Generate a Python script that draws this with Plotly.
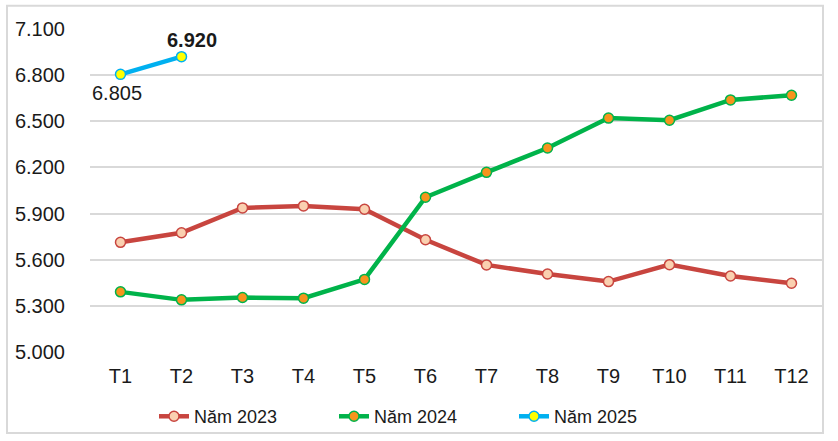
import plotly.graph_objects as go

months = ["T1", "T2", "T3", "T4", "T5", "T6", "T7", "T8", "T9", "T10", "T11", "T12"]
y2023 = [5713, 5775, 5937, 5950, 5928, 5730, 5566, 5507, 5458, 5568, 5494, 5447]
y2024 = [5391, 5339, 5354, 5350, 5472, 6006, 6168, 6326, 6521, 6507, 6639, 6669]
y2025 = [6805, 6920]
months2025 = months[:2]
y_ticks = [5000, 5300, 5600, 5900, 6200, 6500, 6800, 7100]

FONT = "Liberation Sans, Arial, sans-serif"
TXT = "#1a1a1a"

fig = go.Figure()
fig.add_trace(go.Scatter(
    x=months, y=y2023, name="Năm 2023", mode="lines+markers",
    line=dict(color="#C8453F", width=4.5),
    marker=dict(size=10, color="#FAD0B0", line=dict(color="#C8453F", width=1.5)),
))
fig.add_trace(go.Scatter(
    x=months, y=y2024, name="Năm 2024", mode="lines+markers",
    line=dict(color="#00B34A", width=4.5),
    marker=dict(size=10, color="#F7941D", line=dict(color="#00B34A", width=1.5)),
))
fig.add_trace(go.Scatter(
    x=months2025, y=y2025, name="Năm 2025", mode="lines+markers",
    line=dict(color="#00B0F0", width=4.5),
    marker=dict(size=10, color="#FFFF00", line=dict(color="#00B0F0", width=1.5)),
))

def fmt(v):
    return f"{v:,}".replace(",", ".")

fig.add_annotation(x=months2025[0], y=y2025[0], text=fmt(y2025[0]), showarrow=False,
                   xshift=-4, yshift=-19, font=dict(family=FONT, size=20, color=TXT))
fig.add_annotation(x=months2025[1], y=y2025[1], text="<b>" + fmt(y2025[1]) + "</b>", showarrow=False,
                   xshift=10, yshift=17, font=dict(family=FONT, size=20, color=TXT))

# outer chart border
fig.add_shape(type="rect", xref="paper", yref="paper",
              x0=(7 - 90) / 732, x1=(823 - 90) / 732,
              y0=(352.3 - 433.5) / 323.6, y1=(352.3 - 5.5) / 323.6,
              line=dict(color="#D9D9D9", width=2), layer="below")

fig.update_layout(
    width=838, height=441,
    margin=dict(l=90, r=16, t=28.7, b=88.7, autoexpand=False),
    paper_bgcolor="white", plot_bgcolor="white",
    separators=",.",
    font=dict(family=FONT, size=20, color=TXT),
    showlegend=True,
    legend=dict(orientation="h", x=(154 - 90) / 732, xanchor="left",
                y=(352.3 - 417) / 323.6, yanchor="middle",
                font=dict(family=FONT, size=18, color=TXT),
                entrywidth=135, traceorder="normal", bgcolor="rgba(0,0,0,0)"),
    xaxis=dict(type="category", range=[-0.5, 11.5], showgrid=False, zeroline=False,
               showline=False, ticks="", ticklabelstandoff=10,
               tickfont=dict(family=FONT, size=20, color=TXT)),
    yaxis=dict(range=[5000, 7100], tickvals=y_ticks, tickformat=",d",
               showgrid=True, gridcolor="#D9D9D9", gridwidth=2, zeroline=False,
               showline=False, ticks="", ticklabelstandoff=24,
               tickfont=dict(family=FONT, size=20, color=TXT)),
)

post = (
    "document.body.style.margin='0';"
    "document.body.style.overflow='hidden';"
    "document.documentElement.style.overflow='hidden';"
)
fig.write_html("out.html", post_script=post, config={"displayModeBar": False})
